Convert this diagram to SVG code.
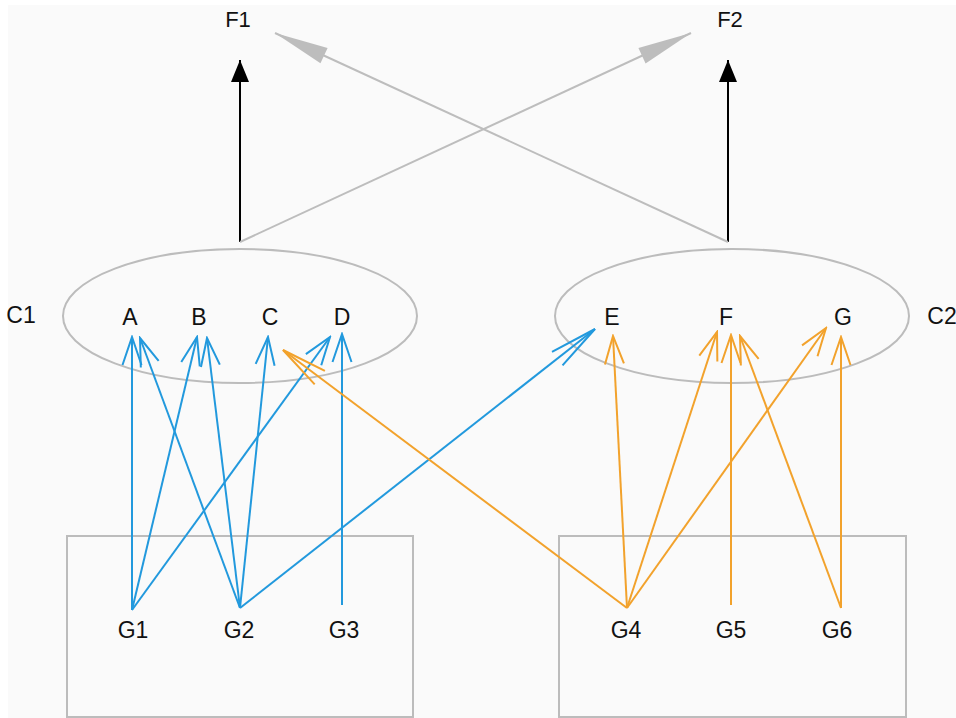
<svg xmlns="http://www.w3.org/2000/svg" width="956" height="718" viewBox="0 0 956 718">
  <style>
    .lbl { font-family: "Liberation Sans", Arial, sans-serif; font-size: 23px; fill: #111; text-anchor: middle; }
    .out { font-size: 22px; }
    .frame { fill: none; stroke: #bcbcbc; stroke-width: 2; }
    .blue { fill: none; stroke: #2299dd; stroke-width: 2; }
    .orange { fill: none; stroke: #f2a22c; stroke-width: 2; }
    .grey { fill: none; stroke: #bdbdbd; stroke-width: 2; }
    .black { fill: none; stroke: #000; stroke-width: 2; }
  </style>
  <defs>
    <marker id="chevBlue" viewBox="-32 -12 34 24" refX="0" refY="0" markerWidth="34" markerHeight="24" markerUnits="userSpaceOnUse" orient="auto">
      <path d="M-28,-9.5 L0,0 L-28,9.5" fill="none" stroke="#2299dd" stroke-width="2"/>
    </marker>
    <marker id="chevBlueLong" viewBox="-52 -12 54 24" refX="0" refY="0" markerWidth="54" markerHeight="24" markerUnits="userSpaceOnUse" orient="auto">
      <path d="M-48,-8.5 L0,0 L-48,8.5" fill="none" stroke="#2299dd" stroke-width="2"/>
    </marker>
    <marker id="chevOrange" viewBox="-32 -12 34 24" refX="0" refY="0" markerWidth="34" markerHeight="24" markerUnits="userSpaceOnUse" orient="auto">
      <path d="M-28,-9.5 L0,0 L-28,9.5" fill="none" stroke="#f2a22c" stroke-width="2"/>
    </marker>
    <marker id="chevOrangeLong" viewBox="-52 -12 54 24" refX="0" refY="0" markerWidth="54" markerHeight="24" markerUnits="userSpaceOnUse" orient="auto">
      <path d="M-46,-8.5 L0,0 L-46,8.5" fill="none" stroke="#f2a22c" stroke-width="2"/>
    </marker>
    <marker id="headGrey" viewBox="-56 -10 58 20" refX="0" refY="0" markerWidth="58" markerHeight="20" markerUnits="userSpaceOnUse" orient="auto">
      <path d="M-54,-8.5 L0,0 L-54,8.5 Z" fill="#bdbdbd"/>
    </marker>
    <marker id="headBlack" viewBox="-24 -11 26 22" refX="0" refY="0" markerWidth="26" markerHeight="22" markerUnits="userSpaceOnUse" orient="auto">
      <path d="M-22,-9 L0,0 L-22,9 Z" fill="#000"/>
    </marker>
  </defs>

  <!-- page background -->
  <rect x="0" y="0" width="956" height="718" fill="#ffffff"/>
  <rect x="8" y="5" width="948" height="713" fill="#fafafa"/>

  <!-- outputs -->
  <g id="F1"><text class="lbl out" x="238" y="27">F1</text></g>
  <g id="F2"><text class="lbl out" x="730" y="27">F2</text></g>

  <!-- clusters -->
  <g id="C1">
    <ellipse class="frame" cx="240" cy="316" rx="177" ry="67"/>
    <text class="lbl" x="21" y="323">C1</text>
  </g>
  <g id="C2">
    <ellipse class="frame" cx="732" cy="316" rx="177" ry="67"/>
    <text class="lbl" x="942" y="324">C2</text>
  </g>

  <!-- members -->
  <g id="A"><text class="lbl" x="130" y="325">A</text></g>
  <g id="B"><text class="lbl" x="199" y="325">B</text></g>
  <g id="C"><text class="lbl" x="270" y="325">C</text></g>
  <g id="D"><text class="lbl" x="342" y="325">D</text></g>
  <g id="E"><text class="lbl" x="612" y="325">E</text></g>
  <g id="F"><text class="lbl" x="726" y="325">F</text></g>
  <g id="G"><text class="lbl" x="843" y="325">G</text></g>

  <!-- groups -->
  <g id="group-left"><rect class="frame" x="67" y="536" width="346" height="181"/></g>
  <g id="group-right"><rect class="frame" x="559" y="536" width="347" height="181"/></g>

  <g id="G1"><text class="lbl" x="133" y="638">G1</text></g>
  <g id="G2"><text class="lbl" x="239" y="638">G2</text></g>
  <g id="G3"><text class="lbl" x="344" y="638">G3</text></g>
  <g id="G4"><text class="lbl" x="626" y="638">G4</text></g>
  <g id="G5"><text class="lbl" x="731" y="638">G5</text></g>
  <g id="G6"><text class="lbl" x="837" y="638">G6</text></g>

  <!-- connectors -->
  <g id="connectors">
    <!-- cluster to output -->
    <line class="black" x1="240" y1="242" x2="240" y2="60" marker-end="url(#headBlack)"/>
    <line class="black" x1="728" y1="242" x2="728" y2="60" marker-end="url(#headBlack)"/>
    <line class="grey" x1="240" y1="242" x2="691" y2="33" marker-end="url(#headGrey)"/>
    <line class="grey" x1="728" y1="242" x2="275" y2="33" marker-end="url(#headGrey)"/>

    <!-- left group -->
    <line class="blue" x1="132" y1="610" x2="132" y2="337" marker-end="url(#chevBlue)"/>
    <line class="blue" x1="132" y1="610" x2="197" y2="337" marker-end="url(#chevBlue)"/>
    <line class="blue" x1="132" y1="610" x2="330" y2="337" marker-end="url(#chevBlue)"/>
    <line class="blue" x1="240" y1="608" x2="140" y2="338" marker-end="url(#chevBlue)"/>
    <line class="blue" x1="240" y1="608" x2="207" y2="338" marker-end="url(#chevBlue)"/>
    <line class="blue" x1="240" y1="608" x2="268" y2="337" marker-end="url(#chevBlue)"/>
    <line class="blue" x1="240" y1="608" x2="595" y2="329" marker-end="url(#chevBlueLong)"/>
    <line class="blue" x1="342" y1="605" x2="342" y2="334" marker-end="url(#chevBlue)"/>

    <!-- right group -->
    <line class="orange" x1="627" y1="608" x2="283" y2="350" marker-end="url(#chevOrangeLong)"/>
    <line class="orange" x1="627" y1="608" x2="613" y2="336" marker-end="url(#chevOrange)"/>
    <line class="orange" x1="627" y1="608" x2="717" y2="332" marker-end="url(#chevOrange)"/>
    <line class="orange" x1="627" y1="608" x2="826" y2="328" marker-end="url(#chevOrange)"/>
    <line class="orange" x1="731" y1="605" x2="731" y2="335" marker-end="url(#chevOrange)"/>
    <line class="orange" x1="841" y1="608" x2="740" y2="336" marker-end="url(#chevOrange)"/>
    <line class="orange" x1="841" y1="608" x2="841" y2="337" marker-end="url(#chevOrange)"/>
  </g>
</svg>
